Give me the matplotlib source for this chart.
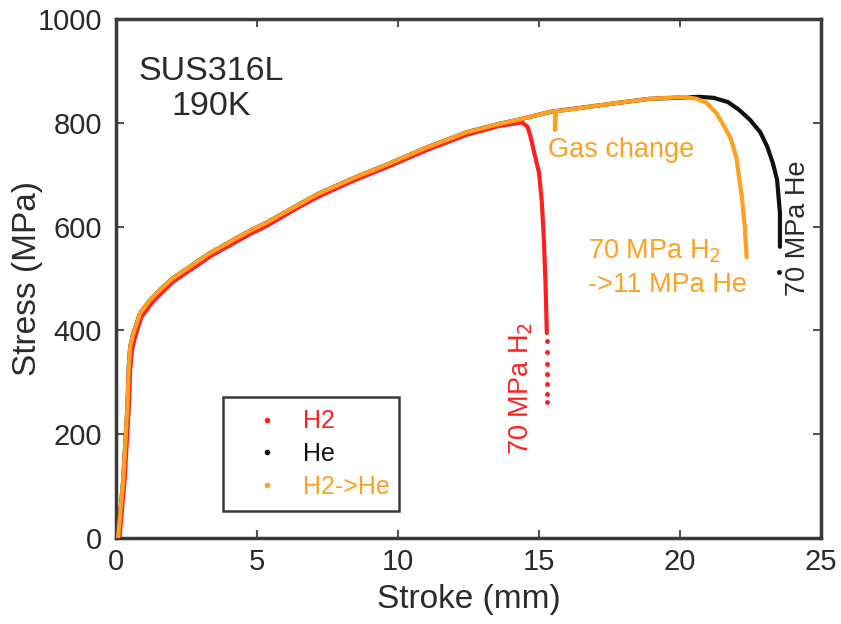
import matplotlib
matplotlib.use("Agg")
import matplotlib.pyplot as plt
from matplotlib.lines import Line2D

plt.rcParams['font.family'] = ['Liberation Sans', 'DejaVu Sans']

# ---- data (stroke mm, stress MPa) ----
h2_stroke = [0.12, 0.3, 0.45, 0.5, 0.56, 0.66, 0.9, 1.25, 1.6, 2.05, 2.65, 3.35, 4.2, 4.8, 5.4,
             6.4, 7.15, 8.4, 9.72, 11.0, 12.45, 13.6, 14.2, 14.4, 14.6, 14.72, 14.82, 15.0,
             15.1, 15.18, 15.24, 15.28]
h2_stress = [0, 110, 250, 325, 360, 385, 426, 452, 472, 495, 517, 543, 569, 587, 603,
             635, 657, 688, 717, 747, 777, 794, 799, 801, 792, 770, 745, 705,
             650, 570, 480, 395]
h2_tail_stroke = [15.3, 15.3, 15.3, 15.3, 15.3, 15.3, 15.3]
h2_tail_stress = [380, 358, 336, 316, 296, 278, 262]

he_stroke = [0.07, 0.25, 0.4, 0.45, 0.5, 0.6, 0.85, 1.2, 1.56, 2.0, 2.6, 3.3, 4.15, 4.75, 5.35,
             6.4, 7.13, 8.4, 9.72, 11.0, 12.45, 13.6, 14.2, 15.4, 17.2, 18.9, 20.2, 20.7,
             21.2, 21.7, 22.1, 22.5, 22.85, 23.1, 23.3, 23.45, 23.55, 23.55]
he_stress = [0, 110, 250, 330, 368, 392, 433, 458, 478, 500, 522, 548, 574, 592, 608,
             640, 662, 693, 722, 752, 782, 798, 805, 821, 834, 846, 849, 850,
             848, 840, 825, 805, 782, 754, 722, 690, 626, 561]
he_tail_stroke = [23.5]
he_tail_stress = [512]

h2he_stroke = [0.07, 0.25, 0.4, 0.45, 0.5, 0.6, 0.85, 1.2, 1.56, 2.0, 2.6, 3.3, 4.15, 4.75, 5.35,
               6.4, 7.13, 8.4, 9.72, 11.0, 12.45, 13.6, 14.2, 15.4, 15.57, 15.57, 15.6, 17.2,
               18.9, 20.2, 20.6, 20.96, 21.3, 21.5, 21.8, 22.0, 22.2, 22.3, 22.37]
h2he_stress = [0, 110, 250, 330, 368, 392, 433, 458, 478, 500, 522, 548, 574, 592, 608,
               640, 662, 693, 722, 752, 782, 798, 805, 821, 822, 786, 822, 834,
               846, 850, 846, 838, 818, 800, 770, 734, 657, 600, 541]

series_labels = ["H2", "He", "H2->He"]
series_colors = ["#ff1f1f", "#111111", "#ffa020"]

xticks = [0, 5, 10, 15, 20, 25]
yticks = [0, 200, 400, 600, 800, 1000]

# ---- figure ----
fig = plt.figure(figsize=(8.41, 6.24), dpi=100)
ax = fig.add_axes([0.138, 0.1378, 0.838, 0.8318])

ax.plot(he_stroke, he_stress, color=series_colors[1], lw=3, solid_capstyle='round',
        solid_joinstyle='round', zorder=2)
ax.plot(he_tail_stroke, he_tail_stress, 'o', color=series_colors[1], ms=2.5, zorder=2)
ax.plot(h2_stroke, h2_stress, color=series_colors[0], lw=3, solid_capstyle='round',
        solid_joinstyle='round', zorder=3)
ax.plot(h2_tail_stroke, h2_tail_stress, 'o', color=series_colors[0], ms=2.5, zorder=3)
ax.plot(h2he_stroke, h2he_stress, color=series_colors[2], lw=3, solid_capstyle='round',
        solid_joinstyle='round', zorder=4)

ax.set_xlim(0, 25)
ax.set_ylim(0, 1000)
ax.set_xticks(xticks)
ax.set_yticks(yticks)

txt = '#2a2a2a'
for s in ax.spines.values():
    s.set_color('#3a3a3a')
    s.set_linewidth(2.5)
ax.tick_params(direction='in', length=6, width=1.5, color='#555555', top=True, right=True,
               labelsize=21, labelcolor=txt)
ax.tick_params(axis='y', pad=10)
ax.tick_params(axis='x', pad=7)
ax.set_xlabel('Stroke (mm)', fontsize=24, color=txt, labelpad=6)
ax.set_ylabel('Stress (MPa)', fontsize=24, color=txt, labelpad=-4)

ax.text(3.37, 865, 'SUS316L\n190K', fontsize=24.5, color=txt, ha='center', va='center',
        linespacing=1.15)
ax.text(15.32, 748, 'Gas change', fontsize=19.5, color=series_colors[2], ha='left', va='center')
ax.text(16.74, 539, '70 MPa H$_2$', fontsize=19.5, color=series_colors[2],
        ha='left', va='baseline')
ax.text(16.74, 474, '->11 MPa He', fontsize=19.5, color=series_colors[2],
        ha='left', va='baseline')
ax.text(24.18, 597, '70 MPa He', fontsize=19.5, color=txt, rotation=90, ha='center', va='center')
ax.text(14.38, 289, '70 MPa H$_2$', fontsize=19.5, color=series_colors[0], rotation=90,
        ha='center', va='center')

handles = [Line2D([], [], marker='o', ms=3, ls='none', color=c) for c in series_colors]
leg = ax.legend(handles, series_labels, loc='upper left', bbox_to_anchor=(0.152, 0.05, 0.25, 0.222),
                mode='expand', fontsize=18, labelcolor=series_colors, frameon=True, fancybox=False,
                edgecolor='#3a3a3a', handlelength=2.5, handletextpad=0.2, borderpad=0.5,
                labelspacing=0.35, borderaxespad=0)
leg.get_frame().set_linewidth(1.8)
leg.get_frame().set_alpha(1)

fig.savefig('out.png', dpi=100, facecolor='white')
